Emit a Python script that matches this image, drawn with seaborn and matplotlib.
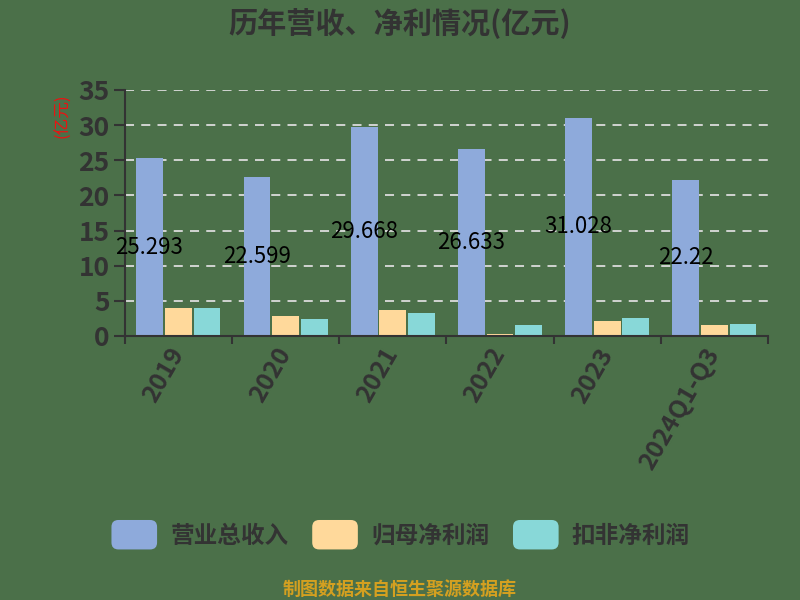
import matplotlib
matplotlib.use("Agg")
import matplotlib.pyplot as plt
import seaborn as sns
import pandas as pd
import numpy as np
from matplotlib.patches import FancyBboxPatch
from matplotlib.legend_handler import HandlerPatch

years = ["2019", "2020", "2021", "2022", "2023", "2024Q1-Q3"]
series_names = ["营业总收入", "归母净利润", "扣非净利润"]
revenue = [25.293, 22.599, 29.668, 26.633, 31.028, 22.22]
net_profit = [4.0, 2.86, 3.71, 0.29, 2.14, 1.57]
deducted_profit = [4.0, 2.43, 3.29, 1.57, 2.57, 1.71]
revenue_labels = ["25.293", "22.599", "29.668", "26.633", "31.028", "22.22"]
colors = ["#8eaadb", "#ffd99b", "#88d8d8"]

sns.set_theme(style="white")
plt.rcParams["font.family"] = ["Noto Sans CJK SC", "DejaVu Sans"]

bg = "#4b7049"
df = pd.DataFrame({
    "year": years * 3,
    "series": [series_names[0]] * 6 + [series_names[1]] * 6 + [series_names[2]] * 6,
    "value": revenue + net_profit + deducted_profit,
})

fig = plt.figure(figsize=(8, 6), dpi=100, facecolor=bg)
ax = fig.add_axes([0.156, 0.44, 0.804, 0.41])
ax.set_facecolor(bg)

sns.barplot(data=df, x="year", y="value", hue="series", order=years,
            hue_order=series_names, palette=colors, width=0.8, gap=0.06,
            saturation=1, ax=ax, legend=True, errorbar=None, linewidth=0, edgecolor="none")

ax.set_ylim(0, 35)
ax.set_xlim(-0.5, len(years) - 0.5)
ax.set_yticks(range(0, 36, 5))
ax.yaxis.grid(True, color="#dcdcdc", linewidth=1.3, dashes=(5, 4))
ax.set_axisbelow(True)
for s in ["top", "right"]:
    ax.spines[s].set_visible(False)
for s in ["left", "bottom"]:
    ax.spines[s].set_color("#333333")
    ax.spines[s].set_linewidth(1.5)

ax.tick_params(axis="y", colors="#333333", labelsize=19, length=8, width=1.5, direction="out", left=True, pad=3)
ax.tick_params(axis="x", which="major", length=0, labelsize=18, labelcolor="#333333", pad=10)
ax.set_xticks(np.arange(-0.5, len(years), 1), minor=True)
ax.tick_params(axis="x", which="minor", length=6, width=1.5, color="#333333", bottom=True)
for lab in ax.get_yticklabels():
    lab.set_fontweight("bold")
for lab in ax.get_xticklabels():
    lab.set_rotation(60)
    lab.set_ha("right")
    lab.set_va("center")
    lab.set_rotation_mode("anchor")
    lab.set_fontweight("bold")
ax.set_xlabel("")
ax.set_ylabel("")

for i, (v, s) in enumerate(zip(revenue, revenue_labels)):
    ax.text(i - 0.27, v / 2, s, ha="center", va="center",
            fontsize=16, color="black")

fig.text(0.078, 0.807, "(亿元)", color="#ee1111", fontsize=12, rotation=90, ha="center", va="center")
fig.text(0.5, 0.962, "历年营收、净利情况(亿元)", ha="center", va="center", fontsize=21,
         fontweight="bold", color="#333333")
fig.text(0.5, 0.018, "制图数据来自恒生聚源数据库", ha="center", va="center", fontsize=13,
         color="#d4a020", fontweight="bold")


class RoundHandler(HandlerPatch):
    def create_artists(self, legend, orig_handle, xdescent, ydescent, width, height, fontsize, trans):
        p = FancyBboxPatch((-xdescent + 1, -ydescent - 3), width - 2, height + 6,
                           boxstyle="round,pad=0,rounding_size=5",
                           facecolor=orig_handle.get_facecolor(), edgecolor="none", transform=trans)
        return [p]


handles, labels = ax.get_legend_handles_labels()
ax.get_legend().remove()
leg = fig.legend(handles, labels, loc="center", bbox_to_anchor=(0.5, 0.107), ncol=3, frameon=False,
                 fontsize=17, handlelength=2.05, handleheight=1.0, columnspacing=0.95, handletextpad=0.5,
                 handler_map={h: RoundHandler() for h in handles})
for t in leg.get_texts():
    t.set_color("#333333")
    t.set_fontweight("bold")

fig.savefig("out.png", dpi=100, facecolor=bg)
